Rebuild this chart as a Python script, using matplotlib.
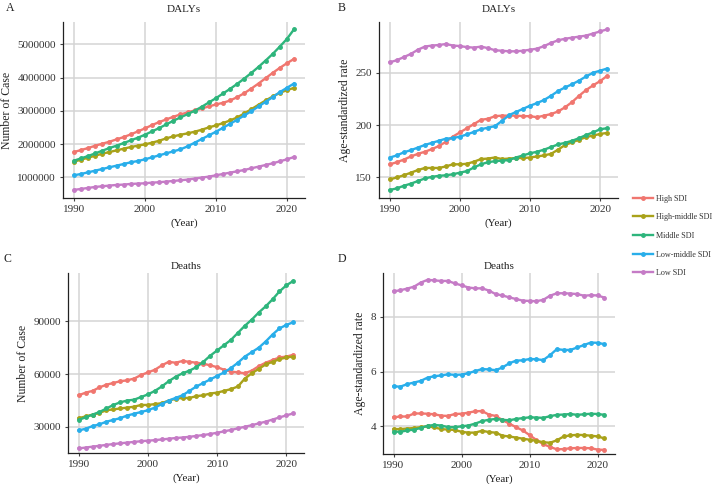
import matplotlib
matplotlib.use("Agg")
import matplotlib.pyplot as plt
from matplotlib.lines import Line2D

plt.rcParams['font.family'] = ['Liberation Serif', 'DejaVu Serif']

years = list(range(1990, 2022))
groups = ["High SDI", "High-middle SDI", "Middle SDI", "Low-middle SDI", "Low SDI"]
colors = ["#F0766F", "#A9A21A", "#2EB57C", "#29AEEA", "#C57BC6"]

# A: DALYs, number (millions)
daly_num_high = [1.76, 1.82, 1.88, 1.95, 2.01, 2.07, 2.14, 2.21, 2.29, 2.38, 2.47, 2.57, 2.66, 2.74, 2.82, 2.89,
                 2.95, 3.01, 3.07, 3.13, 3.19, 3.24, 3.31, 3.41, 3.53, 3.67, 3.82, 3.98, 4.14, 4.29, 4.43, 4.56]
daly_num_hmid = [1.47, 1.53, 1.59, 1.65, 1.71, 1.76, 1.81, 1.86, 1.91, 1.95, 1.99, 2.04, 2.10, 2.17, 2.23, 2.28,
                 2.32, 2.37, 2.43, 2.50, 2.56, 2.63, 2.71, 2.80, 2.92, 3.05, 3.18, 3.31, 3.43, 3.54, 3.62, 3.69]
daly_num_mid = [1.50, 1.57, 1.64, 1.72, 1.80, 1.88, 1.95, 2.03, 2.11, 2.19, 2.28, 2.38, 2.48, 2.59, 2.70, 2.80,
                2.90, 3.00, 3.12, 3.25, 3.38, 3.52, 3.66, 3.81, 3.97, 4.14, 4.32, 4.51, 4.71, 4.93, 5.16, 5.45]
daly_num_lmid = [1.06, 1.10, 1.15, 1.20, 1.25, 1.30, 1.35, 1.40, 1.45, 1.49, 1.54, 1.60, 1.66, 1.72, 1.78, 1.84,
                 1.93, 2.04, 2.15, 2.26, 2.37, 2.49, 2.61, 2.73, 2.86, 2.99, 3.13, 3.27, 3.41, 3.56, 3.69, 3.82]
daly_num_low = [0.62, 0.65, 0.68, 0.71, 0.73, 0.75, 0.77, 0.78, 0.80, 0.81, 0.82, 0.84, 0.85, 0.87, 0.89, 0.91,
                0.93, 0.96, 0.99, 1.02, 1.06, 1.10, 1.14, 1.18, 1.22, 1.27, 1.32, 1.37, 1.42, 1.48, 1.54, 1.61]

# B: DALYs, age-standardized rate
daly_rate_high = [162.5, 164.5, 167, 170, 172.5, 174.5, 177, 180, 184, 189, 193, 197, 201, 205, 206, 208.5,
                  209, 209, 209, 208.5, 208.5, 207.5, 209, 210.5, 213, 217, 222, 228, 233.5, 238, 242, 247]
daly_rate_hmid = [148, 150, 152, 154.5, 157, 159, 159, 159, 160.5, 162.5, 162.5, 163, 165, 167.5, 168, 169,
                  167.5, 168, 168.5, 168.5, 169, 170, 171, 172.5, 176.5, 181, 183.5, 186, 188.5, 190, 191.5, 192.5]
daly_rate_mid = [138, 139.5, 142, 144, 146.5, 149, 150.5, 151.5, 152, 153, 154.5, 156, 159.5, 162.5, 164.5, 165.5,
                 166, 166.5, 169, 171, 173, 174.5, 176.5, 179, 181.5, 183, 185, 187.5, 190.5, 193, 196, 197]
daly_rate_lmid = [169, 171, 174, 176, 178.5, 181, 183, 185, 187, 187.5, 189, 191, 193.5, 196, 197.5, 199,
                  204, 209.5, 212.5, 215.5, 218.5, 221, 224, 228, 232.5, 236, 239, 242.5, 246.5, 250, 252, 254]
daly_rate_low = [260, 262, 265, 268, 272, 275, 276, 276.5, 277.5, 276, 275.5, 274.5, 274, 275, 273.5, 271.5,
                 271, 270.5, 270.5, 271, 272, 273, 275.5, 278.5, 281, 282.5, 283.5, 284.5, 285.5, 287.5, 289.5, 291.5]

# C: Deaths, number
death_num_high = [48000, 49500, 50500, 52500, 54000, 55000, 56000, 56500, 57500, 59500, 61000, 62500, 65000,
                  67000, 66500, 67500, 67000, 66500, 66000, 65000, 64000, 62500, 61500, 61000, 60500, 62000,
                  64500, 66500, 68000, 69500, 70000, 71000]
death_num_hmid = [35000, 36000, 37000, 38000, 39500, 40000, 40500, 41000, 41500, 42500, 42500, 43000, 43500,
                  45000, 46000, 46500, 46500, 47500, 48000, 49000, 49500, 50500, 51500, 53000, 57500, 60500,
                  63000, 65500, 67000, 68500, 69500, 70000]
death_num_mid = [34000, 35500, 37000, 38500, 40500, 42500, 44000, 45000, 45500, 47000, 48500, 50500, 53000,
                 56000, 58500, 60500, 62000, 64000, 67000, 70500, 73500, 76500, 79500, 83500, 87500, 91000,
                 95000, 98500, 102500, 107000, 110500, 113000]
death_num_lmid = [28000, 29000, 30500, 31500, 33000, 34000, 35000, 36500, 37500, 38500, 39500, 41000, 43000,
                  45000, 46500, 48000, 50500, 53000, 55000, 57000, 59000, 61000, 63500, 66500, 70000, 72500,
                  75000, 78500, 82500, 86000, 88000, 89500]
death_num_low = [17800, 18300, 18800, 19300, 19800, 20300, 20700, 21100, 21500, 21900, 22200, 22500, 22900,
                 23300, 23700, 24000, 24400, 24900, 25400, 26000, 26700, 27500, 28300, 29200, 30100, 31000,
                 32000, 33000, 34200, 35400, 36600, 37700]

# D: Deaths, age-standardized rate
death_rate_high = [4.33, 4.36, 4.36, 4.47, 4.47, 4.46, 4.44, 4.39, 4.38, 4.45, 4.46, 4.50, 4.55, 4.56, 4.43, 4.38,
                   4.23, 4.10, 3.97, 3.85, 3.68, 3.50, 3.35, 3.25, 3.16, 3.17, 3.20, 3.21, 3.21, 3.20, 3.15, 3.14]
death_rate_hmid = [3.90, 3.90, 3.92, 3.94, 3.97, 4.00, 3.96, 3.90, 3.88, 3.87, 3.80, 3.77, 3.77, 3.84, 3.79, 3.77,
                   3.66, 3.63, 3.59, 3.55, 3.51, 3.47, 3.42, 3.40, 3.49, 3.63, 3.67, 3.69, 3.68, 3.66, 3.63, 3.56]
death_rate_mid = [3.81, 3.80, 3.85, 3.88, 3.94, 4.02, 4.05, 4.03, 3.97, 3.97, 4.00, 4.03, 4.10, 4.19, 4.24, 4.27,
                  4.24, 4.22, 4.27, 4.30, 4.33, 4.32, 4.31, 4.37, 4.42, 4.43, 4.45, 4.42, 4.44, 4.46, 4.45, 4.42]
death_rate_lmid = [5.46, 5.45, 5.54, 5.60, 5.66, 5.78, 5.83, 5.86, 5.90, 5.88, 5.89, 5.94, 6.02, 6.09, 6.08, 6.05,
                   6.15, 6.30, 6.40, 6.41, 6.46, 6.45, 6.42, 6.60, 6.82, 6.79, 6.79, 6.88, 6.97, 7.06, 7.05, 7.00]
death_rate_low = [8.93, 8.97, 9.03, 9.10, 9.25, 9.35, 9.33, 9.31, 9.31, 9.22, 9.15, 9.07, 9.04, 9.04, 8.96, 8.83,
                  8.78, 8.71, 8.65, 8.59, 8.58, 8.57, 8.62, 8.77, 8.86, 8.86, 8.85, 8.83, 8.77, 8.79, 8.78, 8.70]

daly_num = [[v * 1e6 for v in s] for s in
            [daly_num_high, daly_num_hmid, daly_num_mid, daly_num_lmid, daly_num_low]]
daly_rate = [daly_rate_high, daly_rate_hmid, daly_rate_mid, daly_rate_lmid, daly_rate_low]
death_num = [death_num_high, death_num_hmid, death_num_mid, death_num_lmid, death_num_low]
death_rate = [death_rate_high, death_rate_hmid, death_rate_mid, death_rate_lmid, death_rate_low]

fig = plt.figure(figsize=(7.18, 4.84), dpi=100)
W, H = 718, 484


def px_axes(left, top, right, bottom):
    return fig.add_axes([left / W, 1 - bottom / H, (right - left) / W, (bottom - top) / H])


def panel(ax, series, title, ylabel, yticks, ylim, tpad):
    for s, c in zip(series, colors):
        ax.plot(years, s, color=c, lw=1.7, marker='o', ms=2.5, zorder=3)
    ax.set_xlim(1988.45, 2022.55)
    ax.set_ylim(*ylim)
    ax.set_xticks([1990, 2000, 2010, 2020])
    ax.set_yticks(yticks)
    ax.set_yticklabels([str(t) for t in yticks])
    ax.grid(True, color='#d4d4d4', lw=1.1)
    ax.set_axisbelow(True)
    for sp in ['top', 'right']:
        ax.spines[sp].set_visible(False)
    for sp in ['left', 'bottom']:
        ax.spines[sp].set_color('#222222')
        ax.spines[sp].set_linewidth(0.9)
    ax.tick_params(length=2.5, width=0.8, color='#444444', labelsize=8, labelcolor='#333333', pad=2.5)
    ax.set_title(title, fontsize=8, pad=tpad, color='#222222')
    ax.set_ylabel(ylabel, fontsize=8.5, color='#222222', labelpad=3)
    ax.set_xlabel('(Year)', fontsize=8, color='#222222', labelpad=3)


axA = px_axes(63, 22, 305, 198)
panel(axA, daly_num, 'DALYs', 'Number of Case',
      [1000000, 2000000, 3000000, 4000000, 5000000], (0.377e6, 5.67e6), 7)
axB = px_axes(379, 22, 618, 198)
panel(axB, daly_rate, 'DALYs', 'Age-standardized rate', [150, 200, 250], (130.3, 298.5), 7)
axC = px_axes(68, 273, 304, 453)
panel(axC, death_num, 'Deaths', 'Number of Case', [30000, 60000, 90000], (15200, 117500), 3)
axD = px_axes(383, 273, 615, 454)
panel(axD, death_rate, 'Deaths', 'Age-standardized rate', [4, 6, 8], (2.99, 9.6), 3)

for lab, x, y in [('A', 6, 8), ('B', 338, 8), ('C', 4, 259), ('D', 338, 259)]:
    fig.text(x / W, 1 - y / H, lab, fontsize=8.5, va='center', ha='left', color='#222222')

handles = [Line2D([0], [0], color=c, lw=1.7, marker='o', ms=2.5) for c in colors]
fig.legend(handles, groups, loc='center left', bbox_to_anchor=(630 / W, 1 - 236 / H),
           frameon=False, fontsize=5.9, handlelength=2.4, handletextpad=0.4,
           labelspacing=1.3, labelcolor='#333333', borderaxespad=0)

fig.savefig('out.png', dpi=100)
